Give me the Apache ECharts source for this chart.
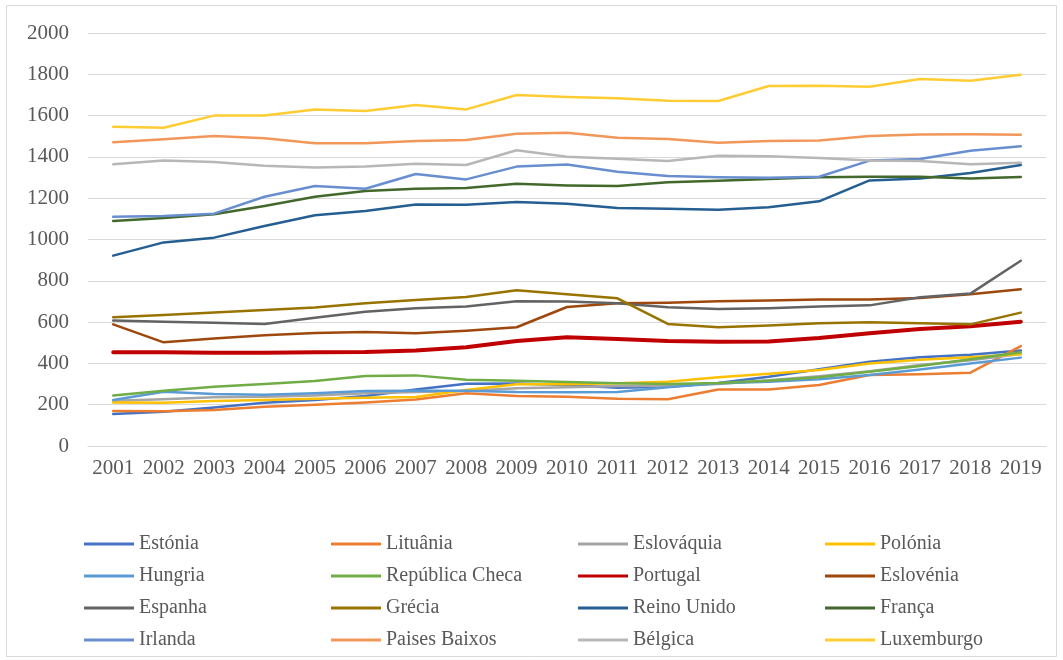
<!DOCTYPE html>
<html>
<head>
<meta charset="utf-8">
<script src="https://cdn.jsdelivr.net/npm/echarts@6/dist/echarts.min.js"></script>
<style>
  html, body { margin: 0; padding: 0; background: #ffffff; }
  #chart { width: 1063px; height: 660px; }
</style>
</head>
<body>
<div id="chart"></div>
<script>
// Years on the horizontal axis
const years = ['2001','2002','2003','2004','2005','2006','2007','2008','2009','2010',
               '2011','2012','2013','2014','2015','2016','2017','2018','2019'];

// Values per country, 2001–2019
const estonia      = [155, 166, 187, 210, 223, 242, 274, 302, 303, 295, 282, 287, 305, 335, 372, 408, 430, 442, 462];
const lituania     = [169, 168, 174, 190, 200, 211, 225, 255, 242, 239, 229, 226, 274, 274, 295, 344, 347, 355, 484];
const eslovaquia   = [219, 226, 236, 239, 245, 255, 261, 266, 280, 285, 290, 292, 300, 318, 338, 362, 392, 415, 445];
const polonia      = [211, 209, 218, 223, 229, 234, 237, 271, 299, 299, 304, 311, 333, 350, 368, 400, 418, 430, 444];
const hungria      = [223, 263, 252, 248, 255, 266, 268, 268, 261, 260, 261, 285, 304, 311, 323, 344, 371, 400, 428];
const repCheca     = [244, 268, 287, 300, 315, 339, 342, 321, 316, 310, 304, 300, 305, 316, 333, 360, 387, 420, 454];
const portugal     = [454, 454, 452, 452, 454, 455, 463, 478, 508, 527, 518, 508, 505, 506, 523, 546, 567, 580, 602];
const eslovenia    = [589, 502, 521, 536, 547, 552, 546, 558, 575, 673, 691, 694, 701, 704, 710, 710, 717, 735, 759];
const espanha      = [608, 602, 597, 591, 621, 650, 667, 675, 701, 700, 691, 672, 663, 667, 675, 681, 720, 738, 897];
const grecia       = [624, 634, 646, 659, 671, 691, 707, 721, 754, 735, 715, 591, 575, 583, 594, 599, 594, 589, 646];
const reinoUnido   = [922, 986, 1009, 1065, 1117, 1138, 1170, 1168, 1182, 1173, 1153, 1149, 1144, 1156, 1185, 1286, 1295, 1322, 1361];
const franca       = [1090, 1104, 1122, 1162, 1207, 1235, 1246, 1249, 1270, 1262, 1259, 1277, 1285, 1293, 1301, 1304, 1304, 1295, 1303];
const irlanda      = [1110, 1114, 1125, 1207, 1259, 1246, 1317, 1291, 1353, 1363, 1328, 1307, 1301, 1299, 1304, 1382, 1390, 1430, 1451];
const paisesBaixos = [1471, 1485, 1501, 1490, 1466, 1466, 1477, 1482, 1512, 1517, 1493, 1487, 1469, 1477, 1479, 1501, 1508, 1510, 1507];
const belgica      = [1364, 1383, 1375, 1357, 1349, 1353, 1367, 1361, 1432, 1401, 1391, 1380, 1406, 1403, 1395, 1382, 1380, 1364, 1372];
const luxemburgo   = [1546, 1541, 1600, 1600, 1630, 1622, 1651, 1630, 1700, 1690, 1684, 1672, 1671, 1743, 1745, 1740, 1777, 1769, 1798];

// Y axis ticks
const yMin = 0, yMax = 2000, yStep = 200;

const seriesDefs = [
  { name: 'Estónia',         data: estonia,      color: '#4472C4', width: 2.5 },
  { name: 'Lituânia',        data: lituania,     color: '#ED7D31', width: 2.5 },
  { name: 'Eslováquia',      data: eslovaquia,   color: '#A5A5A5', width: 2.5 },
  { name: 'Polónia',         data: polonia,      color: '#FFC000', width: 2.5 },
  { name: 'Hungria',         data: hungria,      color: '#5B9BD5', width: 2.5 },
  { name: 'República Checa', data: repCheca,     color: '#70AD47', width: 2.5 },
  { name: 'Portugal',        data: portugal,     color: '#C00000', width: 4 },
  { name: 'Eslovénia',       data: eslovenia,    color: '#9E480E', width: 2.5 },
  { name: 'Espanha',         data: espanha,      color: '#636363', width: 2.5 },
  { name: 'Grécia',          data: grecia,       color: '#997300', width: 2.5 },
  { name: 'Reino Unido',     data: reinoUnido,   color: '#255E91', width: 2.5 },
  { name: 'França',          data: franca,       color: '#43682B', width: 2.5 },
  { name: 'Irlanda',         data: irlanda,      color: '#698ED0', width: 2.5 },
  { name: 'Paises Baixos',   data: paisesBaixos, color: '#F1975A', width: 2.5 },
  { name: 'Bélgica',         data: belgica,      color: '#B7B7B7', width: 2.5 },
  { name: 'Luxemburgo',      data: luxemburgo,   color: '#FFCD33', width: 2.5 }
];

const FONT = "'Liberation Serif', 'Times New Roman', serif";

// Legend laid out in four columns, read row by row
const legendCols = [[], [], [], []];
seriesDefs.forEach((s, i) => legendCols[i % 4].push(s.name));
const colLeft = [84, 331, 578, 825];

const legends = legendCols.map((names, c) => ({
  data: names,
  orient: 'vertical',
  left: colLeft[c],
  top: 534,
  padding: 0,
  itemWidth: 50,
  itemHeight: 3,
  itemGap: 12,
  icon: 'rect',
  selectedMode: false,
  textStyle: { fontFamily: FONT, fontSize: 20, color: '#595959', lineHeight: 20 }
}));

const chart = echarts.init(document.getElementById('chart'), null, { renderer: 'canvas' });

chart.setOption({
  animation: false,
  backgroundColor: '#ffffff',
  graphic: [{
    type: 'rect',
    shape: { x: 6.5, y: 5.5, width: 1050, height: 651 },
    style: { fill: 'none', stroke: '#D9D9D9', lineWidth: 1 },
    silent: true
  }],
  grid: { left: 88, right: 17, top: 33, bottom: 214 },
  legend: legends,
  xAxis: {
    type: 'category',
    data: years,
    boundaryGap: true,
    axisLine: { show: true, lineStyle: { color: '#D9D9D9', width: 1 } },
    axisTick: { show: false },
    axisLabel: { fontFamily: FONT, fontSize: 21, color: '#595959', margin: 12, interval: 0 }
  },
  yAxis: {
    type: 'value',
    min: yMin, max: yMax, interval: yStep,
    axisLine: { show: false },
    axisTick: { show: false },
    splitLine: { lineStyle: { color: '#D9D9D9', width: 1 } },
    axisLabel: {
      fontFamily: FONT, fontSize: 21, color: '#595959', margin: 19,
      formatter: v => String(v)
    }
  },
  series: seriesDefs.map(s => ({
    name: s.name,
    type: 'line',
    data: s.data,
    symbol: 'none',
    showSymbol: false,
    color: s.color,
    lineStyle: { color: s.color, width: s.width, cap: 'round', join: 'round' },
    itemStyle: { color: s.color }
  }))
});
</script>
</body>
</html>
